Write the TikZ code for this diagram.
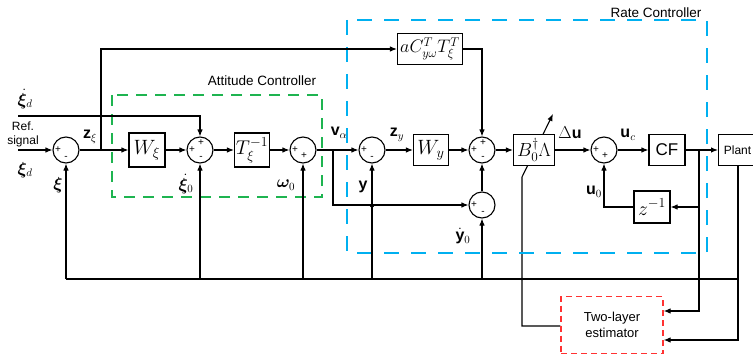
\documentclass[tikz,border=0pt]{standalone}
\usepackage{fontspec}
\setmainfont{Liberation Sans}
\usepackage{amsmath,bm,graphicx}
\usetikzlibrary{arrows.meta,calc,backgrounds}
\definecolor{attgreen}{RGB}{30,180,80}
\definecolor{ratecyan}{RGB}{0,176,240}
\definecolor{estred}{RGB}{255,50,50}
\newcommand{\bxm}[2][1.2]{\scalebox{#1}{$#2$}}
\begin{document}
\begin{tikzpicture}[x=1pt,y=-1pt,
  line width=1.1pt,
  arr/.style={-{Latex[length=7pt,width=5.5pt]}},
  sumc/.style={circle,draw,fill=white,minimum size=26pt,inner sep=0pt},
  blk/.style={draw,fill=white,rectangle,inner sep=0pt,font=\fontsize{17}{19}\selectfont},
  sg/.style={font=\fontsize{10}{10}\selectfont,inner sep=0pt},
  lbl/.style={font=\fontsize{16}{18}\selectfont,inner sep=0pt},
  txt/.style={font=\fontsize{12}{14}\selectfont,inner sep=0pt,align=center},
  dot/.style={circle,fill,inner sep=0pt,minimum size=2.6pt}]
\useasboundingbox (0,0) rectangle (753,361);

% dashed regions
\draw[attgreen,line width=1.2pt,dash pattern=on 11pt off 8pt] (112,95) rectangle (322,197);
\draw[ratecyan,line width=1.2pt,dash pattern=on 15pt off 12pt] (347,20) rectangle (707,253);
\node[txt,font=\fontsize{13.5}{15}\selectfont] (attlbl) at (262,81) {Attitude Controller};
\node[txt,font=\fontsize{13.5}{15}\selectfont] (ratelbl) at (656,13) {Rate Controller};

% nodes
\node[sumc] (s1) at (66,150) {};
\node[blk,minimum width=36pt,minimum height=34pt] (wxi) at (147,150) {\bxm{W_\xi}};
\node[sumc] (s2) at (200,150) {};
\node[blk,minimum width=35pt,minimum height=34pt] (tinv) at (252,150) {\bxm[1.15]{T_\xi^{-1}}};
\node[sumc] (s3) at (303,150) {};
\node[sumc] (s4) at (372,150) {};
\node[blk,minimum width=35pt,minimum height=31pt] (wy) at (431,150) {\bxm{W_y}};
\node[sumc] (s6) at (482,150) {};
\node[sumc] (s5) at (482,205) {};
\node[blk,minimum width=41pt,minimum height=31pt] (bl) at (534,150) {\bxm[1.1]{B_0^\dagger\Lambda}};
\node[sumc] (s7) at (604,150) {};
\node[blk,minimum width=36pt,minimum height=31pt,font=\fontsize{17}{19}\selectfont] (cf) at (667,150) {CF};
\node[blk,minimum width=44pt,minimum height=31pt,anchor=west,font=\fontsize{12}{14}\selectfont] (plant) at (718,150) {\hspace*{-6pt}Plant};
\node[blk,minimum width=36pt,minimum height=32pt] (zinv) at (652,207) {\bxm[1.15]{z^{-1}}};
\node[blk,minimum width=65pt,minimum height=31pt] (ac) at (430,49) {\bxm[1.05]{aC_{y\omega}^{T}T_\xi^{T}}};
\node[draw=estred,dash pattern=on 6pt off 4pt,line width=1.2pt,minimum width=102pt,minimum height=57pt,txt,font=\fontsize{13}{16}\selectfont] (est) at (612,325) {Two-layer\\estimator};

% signs
\node[sg] at ([shift={(-8,0)}]s1.center) {+};
\node[sg] at ([shift={(0,8)}]s1.center) {-};
\node[sg] at ([shift={(-8,0)}]s2.center) {+};
\node[sg] at ([shift={(1,-7)}]s2.center) {+};
\node[sg] at ([shift={(1,8)}]s2.center) {-};
\node[sg] at ([shift={(-8,0)}]s3.center) {+};
\node[sg] at ([shift={(1,6)}]s3.center) {+};
\node[sg] at ([shift={(-8,0)}]s4.center) {+};
\node[sg] at ([shift={(0,8)}]s4.center) {-};
\node[sg] at ([shift={(-8,0)}]s6.center) {+};
\node[sg] at ([shift={(1,-7)}]s6.center) {+};
\node[sg] at ([shift={(1,8)}]s6.center) {-};
\node[sg] at ([shift={(-8,0)}]s5.center) {+};
\node[sg] at ([shift={(1,8)}]s5.center) {-};
\node[sg] at ([shift={(-8,0)}]s7.center) {+};
\node[sg] at ([shift={(1,6)}]s7.center) {+};

% labels
\node[lbl] (l1) at (25,99) {$\dot{\bm\xi}_d$};
\node[txt] (l2) at (23,126) {Ref.};
\node[txt] (l3) at (23,141) {signal};
\node[lbl] (l4) at (25,170) {$\bm\xi_d$};
\node[lbl] (l5) at (58,185) {$\bm\xi$};
\node[lbl] (l6) at (90,137) {$\mathbf{z}_\xi$};
\node[lbl] (l7) at (186,184) {$\dot{\bm\xi}_0$};
\node[lbl] (l8) at (286,185) {$\bm\omega_0$};
\node[lbl] (l9) at (339,133) {$\mathbf{v}_\alpha$};
\node[lbl] (l10) at (397,135) {$\mathbf{z}_y$};
\node[lbl] (l11) at (363,187) {$\mathbf{y}$};
\node[lbl] (l12) at (463,236) {$\dot{\mathbf{y}}_0$};
\node[lbl] (l13) at (570,133) {$\Delta\mathbf{u}$};
\node[lbl] (l14) at (628,135) {$\mathbf{u}_c$};
\node[lbl] (l15) at (594,192) {$\mathbf{u}_0$};

% coordinates
\coordinate (in) at (18,150);
\coordinate (indot) at (18,116);
\coordinate (jz) at (101,150);
\coordinate (jv) at (333,150);
\coordinate (jcf) at (699,150);
\coordinate (fbR) at (738,279);
\coordinate (fbL) at (66,279);

% forward path
\draw[arr] (in) -- (s1);
\draw[arr] (s1) -- (wxi);
\draw[arr] (wxi) -- (s2);
\draw[arr] (s2) -- (tinv);
\draw[arr] (tinv) -- (s3);
\draw[arr] (s3) -- (s4);
\draw[arr] (s4) -- (wy);
\draw[arr] (wy) -- (s6);
\draw[arr] (s6) -- (bl);
\draw[arr] (bl) -- (s7);
\draw[arr] (s7) -- (cf);
\draw[arr] (cf) -- (plant);

% feedforward branches
\draw[arr] (jz) |- (ac);
\draw[arr] (indot) -| (s2);
\node[dot] at (101,116) {};
\draw[arr] (ac) -| (s6);
\draw[arr] (s5) -- (s6);
\draw[arr] (jv) |- (s5);
\draw[line width=0.8pt] (370,205) arc[start angle=180,end angle=360,radius=2pt];

% feedback line
\draw (plant.south -| fbR) -- (fbR) -- (fbL);
\draw[arr] (fbL) -- (s1);
\draw[arr] (s2 |- fbL) -- (s2);
\draw[arr] (s3 |- fbL) -- (s3);
\draw[arr] (s4 |- fbL) -- (s4);
\draw[arr] (s5 |- fbL) -- (s5);

% control allocation loop
\draw[arr] (jcf |- zinv) -- (zinv);
\draw[arr] (zinv) -| (s7);
\draw[arr] (jcf) -- (699,311) -- (est.east |- 0,311);
\draw[arr] (fbR) -- (738,340) -- (est.east |- 0,340);
\node[dot] at (699,279) {};

% estimator to adaptive block (passes behind the block)
\begin{scope}[on background layer]
\draw[arr,line width=1.1pt,black] (est.west |- 0,326) -- (522,326) -- (522,177) -- (553,114);
\end{scope}
\node[dot] at (522,279) {};
\end{tikzpicture}
\end{document}
